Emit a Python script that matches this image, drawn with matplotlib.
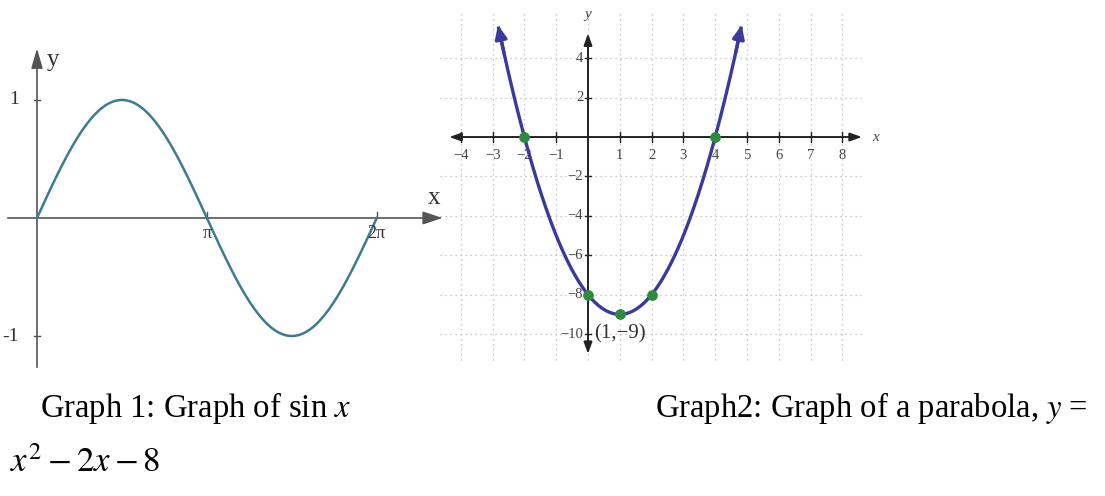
import numpy as np
import matplotlib
matplotlib.use("Agg")
from matplotlib import pyplot as plt

plt.rcParams['font.family'] = ['Liberation Serif', 'DejaVu Serif']
plt.rcParams['mathtext.fontset'] = 'stix'

# graph 1: y = sin x on [0, 2pi]
sin_xmax = 2 * np.pi
sin_yticks = [1, -1]
sin_ytick_labels = ['1', '-1']
sin_xticks = [np.pi, 2 * np.pi]
sin_xtick_labels = ['π', '2π']

# graph 2: y = x^2 - 2x - 8
par_coef = [1, -2, -8]
par_xrange = [-2.85, 4.85]
par_xticks = list(range(-4, 9))
par_yticks = [4, 2, -2, -4, -6, -8, -10]
key_x = [-2, 4, 0, 1, 2]
key_y = [0, 0, -8, -9, -8]

captions = ["Graph 1: Graph of sin $x$",
            "Graph2: Graph of a parabola, $y$ =",
            "$x^2 - 2x - 8$"]

W, H = 1105, 496
fig = plt.figure(figsize=(W / 100, H / 100), dpi=100)

# ---------- left: sine ----------
ax1 = fig.add_axes([0, (H - 370) / H, 455 / W, 330 / H])
ax1.set_xlim(-0.684, 7.73)
ax1.set_ylim(-1.288, 1.508)
ax1.axis('off')
axc = '#555555'
xs = np.linspace(0, sin_xmax, 400)
ax1.plot(xs, np.sin(xs), color='#3d7b8e', lw=1.8, zorder=3)
ax1.plot([-0.53, 7.45], [0, 0], color=axc, lw=1.2)
ax1.plot([0, 0], [-1.262, 1.3], color=axc, lw=1.2)
ax1.annotate('', xy=(7.55, 0), xytext=(7.2, 0),
             arrowprops=dict(arrowstyle='-|>,head_length=1.2,head_width=0.4', color=axc, lw=1.2))
ax1.annotate('', xy=(0, 1.46), xytext=(0, 1.25),
             arrowprops=dict(arrowstyle='-|>,head_length=1.2,head_width=0.35', color=axc, lw=1.2))
for yv, lab in zip(sin_yticks, sin_ytick_labels):
    ax1.plot([-0.06, 0.06], [yv, yv], color=axc, lw=1)
    ax1.text(-0.33, yv, lab, ha='right', va='center', fontsize=14, color='#333333')
for xv, lab in zip(sin_xticks, sin_xtick_labels):
    ax1.plot([xv, xv], [0, 0.05], color=axc, lw=1)
    ax1.text(xv, -0.06, lab, ha='center', va='top', fontsize=13, color='#333333')
ax1.text(0.3, 1.34, 'y', fontsize=18, ha='center', va='center', color='#333333')
ax1.text(7.35, 0.17, 'x', fontsize=18, ha='center', va='center', color='#333333')

# ---------- right: parabola ----------
ax2 = fig.add_axes([440 / W, (H - 365) / H, 430 / W, 360 / H])
ax2.set_xlim(-4.654, 8.868)
ax2.set_ylim(-11.57, 6.70)
ax2.axis('off')
gc = '#b8b8b8'
for xv in par_xticks:
    ax2.plot([xv, xv], [-11.3, 6.3], color=gc, lw=0.9, ls=(0, (1, 3)), zorder=0)
for yv in par_yticks:
    ax2.plot([-4.8, 8.6], [yv, yv], color=gc, lw=0.9, ls=(0, (1, 3)), zorder=0)
ax2.annotate('', xy=(-4.45, 0), xytext=(8.7, 0),
             arrowprops=dict(arrowstyle='<|-|>,head_length=0.7,head_width=0.25', color='#222222', lw=1.4))
ax2.annotate('', xy=(0, 5.4), xytext=(0, -11.15),
             arrowprops=dict(arrowstyle='<|-|>,head_length=0.7,head_width=0.25', color='#222222', lw=1.4))
for xv in par_xticks:
    if xv != 0:
        ax2.plot([xv, xv], [-0.25, 0.25], color='#222222', lw=1)
        ax2.text(xv, -0.6, '−%d' % -xv if xv < 0 else str(xv), ha='center', va='top',
                 fontsize=10.5, color='#444444')
for yv in par_yticks:
    ax2.plot([-0.1, 0.1], [yv, yv], color='#222222', lw=1)
    ax2.text(-0.15, yv, '−%d' % -yv if yv < 0 else str(yv), ha='right', va='center',
             fontsize=10.5, color='#444444')
ax2.text(8.95, 0, 'x', fontsize=11, style='italic', ha='left', va='center', color='#444444')
ax2.text(0, 6.2, 'y', fontsize=11, style='italic', ha='center', va='center', color='#444444')

a, b, c = par_coef
px = np.linspace(par_xrange[0], par_xrange[1], 400)
py = a * px ** 2 + b * px + c
ax2.plot(px[2:-2], py[2:-2], color='#3a3a9c', lw=2.4, zorder=3)
ax2.annotate('', xy=(px[0], py[0]), xytext=(px[12], py[12]),
             arrowprops=dict(arrowstyle='-|>,head_length=0.8,head_width=0.35', color='#3a3a9c', lw=2.4))
ax2.annotate('', xy=(px[-1], py[-1]), xytext=(px[-13], py[-13]),
             arrowprops=dict(arrowstyle='-|>,head_length=0.8,head_width=0.35', color='#3a3a9c', lw=2.4))
ax2.scatter(key_x, key_y, s=45, color='#2e8b3e', zorder=4)
ax2.text(0.2, -10.0, '(1,−9)', fontsize=15, ha='left', va='center', color='#333333')

# ---------- captions ----------
fig.text(40 / W, 1 - 408 / H, captions[0], fontsize=23.5, ha='left', va='center')
fig.text(655 / W, 1 - 408 / H, captions[1], fontsize=23.5, ha='left', va='center')
fig.text(10 / W, 1 - 463 / H, captions[2], fontsize=25, ha='left', va='center')

fig.savefig('out.png', dpi=100, facecolor='white')
